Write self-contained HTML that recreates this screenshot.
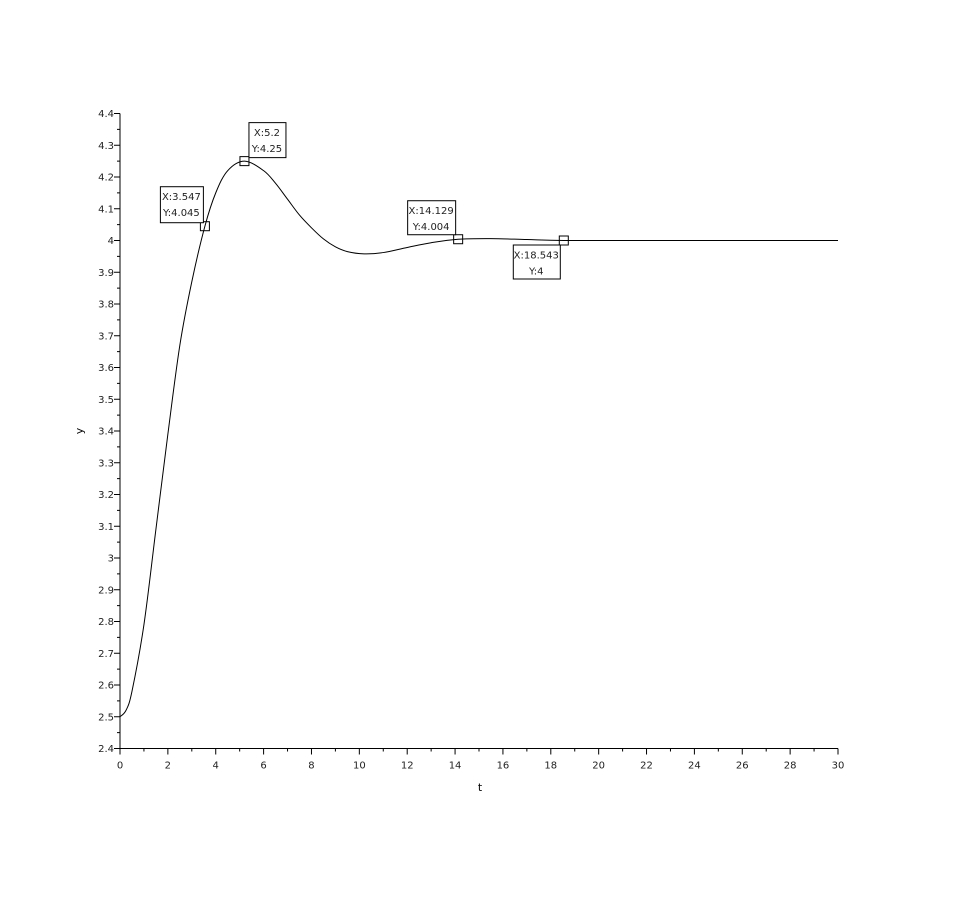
<!DOCTYPE html>
<html><head><meta charset="utf-8"><style>
body{margin:0;background:#fff}
svg{display:block;font-family:"DejaVu Sans","Liberation Sans",sans-serif}
</style></head><body>
<svg id="chart" width="960" height="906" viewBox="0 0 960 906">
<rect width="960" height="906" fill="#fff"/>
<g id="axes"></g>
<g id="plot"></g>
<text x="480" y="791" font-size="11" text-anchor="middle">t</text>
<text x="83" y="431" font-size="11" text-anchor="middle" transform="rotate(-90 83 431)">y</text>
</svg>
<script>
const tValues=[0,0.25,0.5,1.0,1.5,2.0,2.5,3.0,3.547,4.0,4.5,5.2,6.0,6.5,7.0,7.5,8.0,8.5,9.0,9.5,10.2,11.0,12.0,13.0,14.129,15.5,17,18.543,22,26,30];
const yValues=[2.5,2.52,2.58,2.79,3.09,3.39,3.67,3.87,4.045,4.15,4.22,4.25,4.22,4.18,4.13,4.08,4.04,4.005,3.98,3.965,3.958,3.962,3.978,3.993,4.004,4.006,4.003,4.0,4.0,4.0,4.0];
const xTicks=[0,2,4,6,8,10,12,14,16,18,20,22,24,26,28,30];
const yTicks=[2.4,2.5,2.6,2.7,2.8,2.9,3,3.1,3.2,3.3,3.4,3.5,3.6,3.7,3.8,3.9,4,4.1,4.2,4.3,4.4];
const markerT=[3.547,5.2,14.129,18.543];
const markerY=[4.045,4.25,4.004,4];
const markerLabels=[["X:3.547","Y:4.045"],["X:5.2","Y:4.25"],["X:14.129","Y:4.004"],["X:18.543","Y:4"]];
const NS="http://www.w3.org/2000/svg";
const X0=120,X1=838,Y0=748.5,Y1=113.5;
const xs=t=>X0+(t-0)/30*(X1-X0);
const ys=v=>Y0-(v-2.4)/2*(Y0-Y1);
function mk(tag,attrs,parent){const e=document.createElementNS(NS,tag);for(const k in attrs)e.setAttribute(k,attrs[k]);parent.appendChild(e);return e;}
const ax=document.getElementById('axes'),pl=document.getElementById('plot');
let l=mk('line',{x1:X0,y1:Y0,x2:X1,y2:Y0,stroke:'#000','stroke-width':1},ax);


l=mk('line',{x1:X0,y1:Y0,x2:X0,y2:Y1,stroke:'#000','stroke-width':1},ax);


for(let i=0;i<xTicks.length;i++){const x=xs(xTicks[i]);
 const tk=mk('line',{x1:x,y1:Y0,x2:x,y2:Y0+6,stroke:'#000'},ax);
 
 
 const tx=mk('text',{x:x,y:Y0+20,'font-size':10,'text-anchor':'middle',fill:'#222'},ax);tx.textContent=xTicks[i];
 
 
 if(i<xTicks.length-1){const xm=xs(xTicks[i]+1);const m=mk('line',{x1:xm,y1:Y0,x2:xm,y2:Y0+3,stroke:'#000'},ax);
 
 }
}
for(let i=0;i<yTicks.length;i++){const y=ys(yTicks[i]);
 const tk=mk('line',{x1:X0-6,y1:y,x2:X0,y2:y,stroke:'#000'},ax);
 
 
 const tx=mk('text',{x:X0-6,y:y+3.5,'font-size':10,'text-anchor':'end',fill:'#222'},ax);tx.textContent=yTicks[i];
 
 
 if(i<yTicks.length-1){const ym=ys(yTicks[i]+0.05);const m=mk('line',{x1:X0-3,y1:ym,x2:X0,y2:ym,stroke:'#000'},ax);
 
 }
}
// smooth curve via Catmull-Rom
const pts=tValues.map((t,i)=>[xs(t),ys(yValues[i])]);
let d='M'+pts[0][0]+','+pts[0][1];
for(let i=0;i<pts.length-1;i++){const p0=pts[Math.max(0,i-1)],p1=pts[i],p2=pts[i+1],p3=pts[Math.min(pts.length-1,i+2)];
 d+=' C'+(p1[0]+(p2[0]-p0[0])/6)+','+(p1[1]+(p2[1]-p0[1])/6)+' '+(p2[0]-(p3[0]-p1[0])/6)+','+(p2[1]-(p3[1]-p1[1])/6)+' '+p2[0]+','+p2[1];}
const curve=mk('path',{d:d,fill:'none',stroke:'#000','stroke-width':1},pl);


const boxOff=[[-45,-40,43,36],[4,-39,37,35],[-51,-39,48,34],[-51,4,47,34]];
for(let i=0;i<markerT.length;i++){const x=xs(markerT[i]),y=ys(markerY[i]);
 const g=mk('g',{},pl);
 
 
 mk('rect',{x:x-4.5,y:y-4.5,width:9,height:9,fill:'none',stroke:'#000'},g);
 const b=boxOff[i];
 mk('rect',{x:x+b[0]+0.5,y:y+b[1]+0.5,width:b[2],height:b[3],fill:'#fff',stroke:'#000'},g);
 const cx=x+b[0]+b[2]/2;
 const t1=mk('text',{x:cx,y:y+b[1]+14,'font-size':10,'text-anchor':'middle',fill:'#222'},g);t1.textContent=markerLabels[i][0];
 const t2=mk('text',{x:cx,y:y+b[1]+30,'font-size':10,'text-anchor':'middle',fill:'#222'},g);t2.textContent=markerLabels[i][1];
}
</script>
</body></html>
